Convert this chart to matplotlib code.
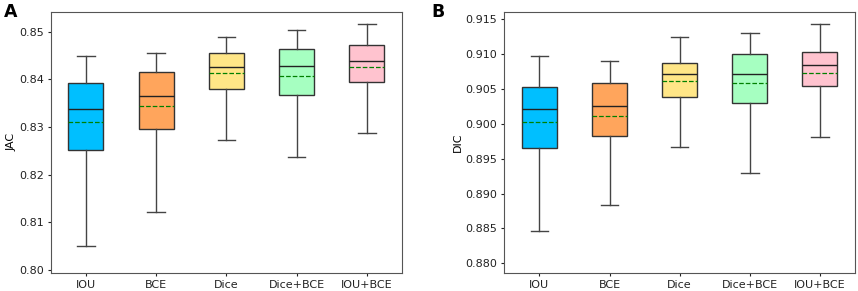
import matplotlib
matplotlib.use('Agg')
import matplotlib.pyplot as plt

labels = ['IOU', 'BCE', 'Dice', 'Dice+BCE', 'IOU+BCE']
colors = ['#00BFFF', '#FFA55C', '#FFE687', '#A6FFC1', '#FFC3CF']

# JAC (panel A)
jac_low = [0.8050, 0.8122, 0.8273, 0.8236, 0.8288]
jac_q1 = [0.8252, 0.8295, 0.8379, 0.8368, 0.8394]
jac_med = [0.8337, 0.8365, 0.8425, 0.8428, 0.8438]
jac_mean = [0.8311, 0.8345, 0.8414, 0.8406, 0.8426]
jac_q3 = [0.8393, 0.8416, 0.8455, 0.8463, 0.8473]
jac_high = [0.8450, 0.8456, 0.8489, 0.8504, 0.8517]

# DIC (panel B)
dic_low = [0.8846, 0.8883, 0.8967, 0.8930, 0.8981]
dic_q1 = [0.8966, 0.8982, 0.9039, 0.9030, 0.9054]
dic_med = [0.9022, 0.9026, 0.9071, 0.9071, 0.9084]
dic_mean = [0.9003, 0.9012, 0.9062, 0.9059, 0.9073]
dic_q3 = [0.9053, 0.9058, 0.9088, 0.9101, 0.9103]
dic_high = [0.9097, 0.9090, 0.9124, 0.9130, 0.9144]


def make_stats(low, q1, med, mean, q3, high):
    stats = []
    for i in range(len(labels)):
        stats.append({'label': labels[i], 'whislo': low[i], 'q1': q1[i], 'med': med[i],
                      'mean': mean[i], 'q3': q3[i], 'whishi': high[i], 'fliers': []})
    return stats


def draw(ax, stats, ylabel, ylim, yticks, fmt):
    bp = ax.bxp(stats, patch_artist=True, showmeans=True, meanline=True, widths=0.5,
                boxprops=dict(edgecolor='#333333', linewidth=1.0),
                medianprops=dict(color='#222222', linewidth=1.0),
                meanprops=dict(color='green', linestyle='--', linewidth=0.9),
                whiskerprops=dict(color='#444444', linewidth=1.0),
                capprops=dict(color='#444444', linewidth=1.0))
    for patch, c in zip(bp['boxes'], colors):
        patch.set_facecolor(c)
    ax.set_ylim(*ylim)
    ax.set_yticks(yticks)
    ax.set_yticklabels([fmt.format(t) for t in yticks])
    ax.set_ylabel(ylabel, fontsize=8, labelpad=2)
    ax.tick_params(labelsize=8, length=2, width=0.8, pad=3, colors='#222222')
    for s in ax.spines.values():
        s.set_color('#555555')
        s.set_linewidth(0.8)


fig = plt.figure(figsize=(8.58, 2.91), dpi=100)
ax1 = fig.add_axes([50.7 / 858, 1 - 272.7 / 291, (402 - 50.7) / 858, (272.7 - 11.7) / 291])
ax2 = fig.add_axes([504.3 / 858, 1 - 273.3 / 291, (855 - 504.3) / 858, (273.3 - 11.7) / 291])

draw(ax1, make_stats(jac_low, jac_q1, jac_med, jac_mean, jac_q3, jac_high), 'JAC',
     (0.7994, 0.8542), [0.80, 0.81, 0.82, 0.83, 0.84, 0.85], '{:.2f}')
draw(ax2, make_stats(dic_low, dic_q1, dic_med, dic_mean, dic_q3, dic_high), 'DIC',
     (0.87857, 0.9161), [0.880, 0.885, 0.890, 0.895, 0.900, 0.905, 0.910, 0.915], '{:.3f}')

fig.text(4 / 858, 1 - 17 / 291, 'A', fontsize=12.5, fontweight='bold', va='baseline')
fig.text(431 / 858, 1 - 17 / 291, 'B', fontsize=12.5, fontweight='bold', va='baseline')

fig.savefig('out.png', dpi=100)
